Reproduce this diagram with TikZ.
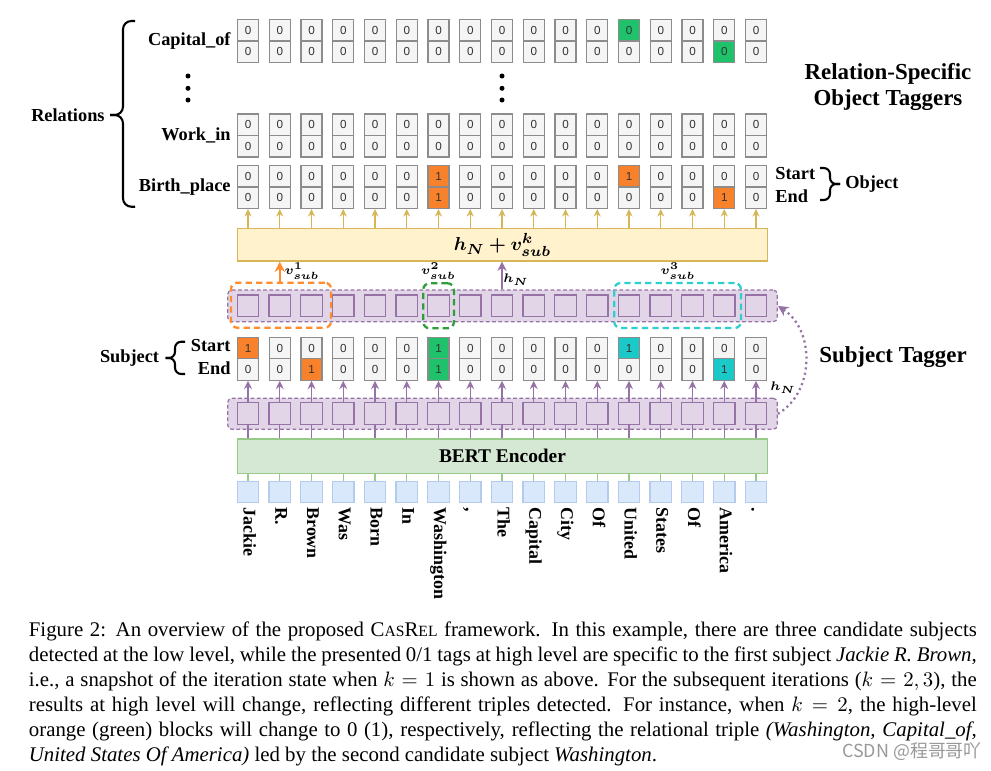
\documentclass[tikz,border=0pt]{standalone}
\usepackage{fontspec}
\usepackage{amsmath, bm}
\setmainfont{Liberation Serif}
\newfontfamily\cellfont{Liberation Sans}
\newfontfamily\cjk{Noto Sans CJK SC}
\usetikzlibrary{arrows.meta}

\definecolor{cellbg}{HTML}{F5F5F5}
\definecolor{cellline}{HTML}{8C8C8C}
\definecolor{tagorange}{HTML}{F8812B}
\definecolor{taggreen}{HTML}{1FC26A}
\definecolor{tagcyan}{HTML}{1BC9C9}
\definecolor{purplefill}{HTML}{E1D5E7}
\definecolor{purpleline}{HTML}{9673A6}
\definecolor{yellowfill}{HTML}{FFF2CC}
\definecolor{yellowline}{HTML}{D6B656}
\definecolor{greenfill}{HTML}{D5E8D4}
\definecolor{greenline}{HTML}{97C987}
\definecolor{tokenfill}{HTML}{DAE8FC}
\definecolor{tokenline}{HTML}{B4CBEE}
\definecolor{candorange}{HTML}{FF8C2E}
\definecolor{candgreen}{HTML}{2E9E3A}
\definecolor{candcyan}{HTML}{2ECFD0}

\tikzset{
    hi-capt12/.style={fill=taggreen}, hi-capb15/.style={fill=taggreen},
    hi-bpt6/.style={fill=tagorange}, hi-bpb6/.style={fill=tagorange},
    hi-bpt12/.style={fill=tagorange}, hi-bpb15/.style={fill=tagorange},
    hi-subt0/.style={fill=tagorange}, hi-subb2/.style={fill=tagorange},
    hi-subt6/.style={fill=taggreen}, hi-subb6/.style={fill=taggreen},
    hi-subt12/.style={fill=tagcyan}, hi-subb15/.style={fill=tagcyan}
}

\begin{document}
\begin{tikzpicture}[x=0.48pt, y=-0.48pt,
    cell/.style={draw=cellline, fill=cellbg, line width=0.6pt, minimum width=10.1pt,
        minimum height=10.3pt, inner sep=0pt, text=black!80,
        font=\cellfont\fontsize{5.6}{6}\selectfont},
    lbl/.style={inner sep=0pt, font=\fontsize{8.8}{10}\selectfont\bfseries},
    title/.style={inner sep=0pt, align=center, font=\fontsize{11}{12.8}\selectfont\bfseries},
    wide/.style={minimum width=254.2pt, inner sep=0pt, line width=0.6pt},
    strip/.style={draw=purpleline, fill=purplefill, dash pattern=on 1.8pt off 1.2pt,
        line width=0.6pt, rounded corners=2pt, minimum width=263.8pt, inner sep=0pt},
    hidsq/.style={draw=purpleline, fill=purplefill, line width=0.6pt,
        minimum size=10.4pt, inner sep=0pt},
    token/.style={draw=tokenline, fill=tokenfill, line width=0.6pt,
        minimum size=10.3pt, inner sep=0pt},
    word/.style={rotate=-90, anchor=west, inner sep=0pt, text height=6pt, text depth=1.8pt,
        font=\fontsize{8.6}{10}\selectfont\bfseries},
    cand/.style={dash pattern=on 3pt off 2pt, line width=1.1pt, rounded corners=3pt,
        minimum height=21.6pt, inner sep=0pt},
    sublbl/.style={inner sep=0pt, font=\fontsize{6.2}{7}\selectfont},
    goldarrow/.style={draw=yellowline, line width=0.6pt, -{Stealth[length=3.6pt, width=3.4pt]}},
    purplearrow/.style={draw=purpleline, line width=0.7pt, -{Stealth[length=4pt, width=3.8pt]}},
    bracket/.style={line width=1pt, rounded corners=3pt}
]
    \useasboundingbox (0,0) rectangle (991,770);
    \fill[white] (0,0) rectangle (991,770);

    % Relation-specific object taggers
    \foreach \i in {0,...,16} {
        \node[cell, hi-capt\i/.try] (capt\i) at (248+31.75*\i, 30.3) {0};
        \node[cell, hi-capb\i/.try] (capb\i) at (248+31.75*\i, 51.7) {0};
        \node[cell] (wkt\i) at (248+31.75*\i, 124.8) {0};
        \node[cell] (wkb\i) at (248+31.75*\i, 146.2) {0};
    }
    \foreach \t/\b [count=\i from 0] in {0/0,0/0,0/0,0/0,0/0,0/0,1/1,0/0,0/0,0/0,0/0,0/0,1/0,0/0,0/0,0/1,0/0} {
        \node[cell, hi-bpt\i/.try] (bpt\i) at (248+31.75*\i, 176.3) {\t};
        \node[cell, hi-bpb\i/.try] (bpb\i) at (248+31.75*\i, 197.7) {\b};
    }

    \node[lbl, anchor=east] (capname) at (231, 41) {Capital\_of};
    \node[lbl, anchor=east] (wkname) at (231, 135.5) {Work\_in};
    \node[lbl, anchor=east] (bpname) at (231, 187) {Birth\_place};
    \foreach \yy in {76, 88.3, 100} {
        \fill (188, \yy) circle (1.2pt);
        \fill (502, \yy) circle (1.2pt);
    }
    \draw[bracket, rounded corners=4pt] (135, 21) -- (123, 21) -- (123, 115) -- (110, 115);
    \draw[bracket, rounded corners=4pt] (110, 115) -- (123, 115) -- (123, 206.7) -- (135, 206.7);
    \node[lbl, anchor=east] (relations) at (105, 115) {Relations};

    \node[lbl, anchor=west] (objstart) at (775, 174) {Start};
    \node[lbl, anchor=west] (objend) at (775, 196) {End};
    \draw[bracket] (820, 168) -- (830, 168) -- (830, 184) -- (840, 184);
    \draw[bracket] (840, 184) -- (830, 184) -- (830, 200) -- (820, 200);
    \node[lbl, anchor=west] (object) at (845, 184.3) {Object};
    \node[title] (objtitle) at (888, 87) {Relation-Specific\\Object Taggers};

    % h_N + v_sub
    \node[wide, draw=yellowline, fill=yellowfill, minimum height=15.7pt,
        font=\fontsize{9.5}{11}\selectfont] (fuse) at (502.5, 244.6) {$\bm{h_N + v^k_{sub}}$};

    % Subject tagger
    \node[strip, minimum height=15.2pt] (upstrip) at (502.5, 305.9) {};
    \node[strip, minimum height=14.9pt] (lostrip) at (502.5, 413.8) {};
    \foreach \i in {0,...,16} {
        \node[hidsq] (up\i) at (248+31.75*\i, 305.9) {};
        \node[hidsq] (lo\i) at (248+31.75*\i, 413.5) {};
        \node[token] (tok\i) at (248+31.75*\i, 492) {};
    }
    \foreach \t/\b [count=\i from 0] in {1/0,0/0,0/1,0/0,0/0,0/0,1/1,0/0,0/0,0/0,0/0,0/0,1/0,0/0,0/0,0/1,0/0} {
        \node[cell, hi-subt\i/.try] (subt\i) at (248+31.75*\i, 348) {\t};
        \node[cell, hi-subb\i/.try] (subb\i) at (248+31.75*\i, 369.4) {\b};
    }
    \node[lbl, anchor=east] (substart) at (231, 346) {Start};
    \node[lbl, anchor=east] (subend) at (231, 368) {End};
    \draw[bracket] (185, 341.7) -- (175, 341.7) -- (175, 358) -- (165.7, 358);
    \draw[bracket] (165.7, 358) -- (175, 358) -- (175, 374) -- (185, 374);
    \node[lbl, anchor=east] (subject) at (159.5, 358.3) {Subject};
    \node[title] (subtitle) at (893, 357.3) {Subject Tagger};

    % candidate subjects
    \node[cand, draw=candorange, minimum width=48pt] (cand1) at (281, 305.2) {};
    \node[cand, draw=candgreen, minimum width=14.7pt] (cand2) at (438.6, 305.8) {};
    \node[cand, draw=candcyan, minimum width=60.8pt] (cand3) at (677.6, 305.5) {};
    \node[sublbl] (v1) at (302, 271) {$\bm{v^1_{sub}}$};
    \node[sublbl] (v2) at (438.5, 271) {$\bm{v^2_{sub}}$};
    \node[sublbl] (v3) at (678, 271) {$\bm{v^3_{sub}}$};
    \draw[candorange, line width=1.2pt, -{Stealth[length=5pt, width=5pt]}]
        (cand1.north -| up1) -- (fuse.south -| up1);
    \draw[purpleline, line width=1pt, -{Stealth[length=4.5pt, width=4.5pt]}]
        (upstrip.north -| up8) -- (fuse.south -| up8);
    \node[sublbl] (hn1) at (516, 280) {$\bm{h_N}$};

    % BERT encoder
    \node[wide, draw=greenline, fill=greenfill, minimum height=16.5pt,
        font=\fontsize{9.3}{11}\selectfont\bfseries] (bert) at (502.5, 456.2) {BERT Encoder};

    \foreach \i in {0,...,16} {
        \draw[goldarrow] (fuse.north -| bpb\i) -- (bpb\i.south);
        \draw[purpleline, line width=0.7pt] (bert.north -| lo\i) -- (lo\i.south);
        \draw[purplearrow] (lo\i.north) -- (subb\i.south);
        \draw[greenline, line width=0.7pt] (tok\i.north) -- (bert.south -| tok\i);
    }

    \draw[purpleline, line width=1.1pt, dash pattern=on 1pt off 1.6pt, -{Stealth[length=5pt, width=5pt]}]
        (lostrip.east) .. controls (815, 392) and (815, 330) .. (upstrip.east);
    \node[sublbl] (hn2) at (783, 388) {$\bm{h_N}$};

    % input tokens
    \foreach \w [count=\i from 0] in {Jackie, R., Brown, Was, Born, In, Washington, {,}, The,
            Capital, City, Of, United, States, Of, America, .}
        \node[word] (w\i) at (248+31.75*\i, 507) {\w};

    % caption
    \node[anchor=base west, text width=455pt, align=justify, inner sep=0pt,
        font=\fontsize{10}{12}\selectfont] (caption) at (28.5, 636.4) {Figure 2: An overview
        of the proposed C{\fontsize{7.5}{9}\selectfont AS}R{\fontsize{7.5}{9}\selectfont EL}
        framework. In this example, there are three candidate subjects\linebreak
        detected at the low level, while the presented 0/1 tags at high level are specific to
        the first subject \textit{Jackie R. Brown},\linebreak
        i.e., a snapshot of the iteration state when $k=1$ is shown as above. For the
        subsequent iterations ($k=2,3$), the\linebreak
        results at high level will change, reflecting different triples detected. For
        instance, when $k=2$, the high-level\linebreak
        orange (green) blocks will change to 0 (1), respectively, reflecting the relational
        triple \textit{(Washington, Capital\_of,}\linebreak
        \textit{United States Of America)} led by the second candidate subject
        \textit{Washington}.};

    \node[text=black!40, inner sep=0pt, font=\cjk\fontsize{8.6}{10}\selectfont] (watermark)
        at (912, 752) {CSDN @程哥哥吖};
\end{tikzpicture}
\end{document}
